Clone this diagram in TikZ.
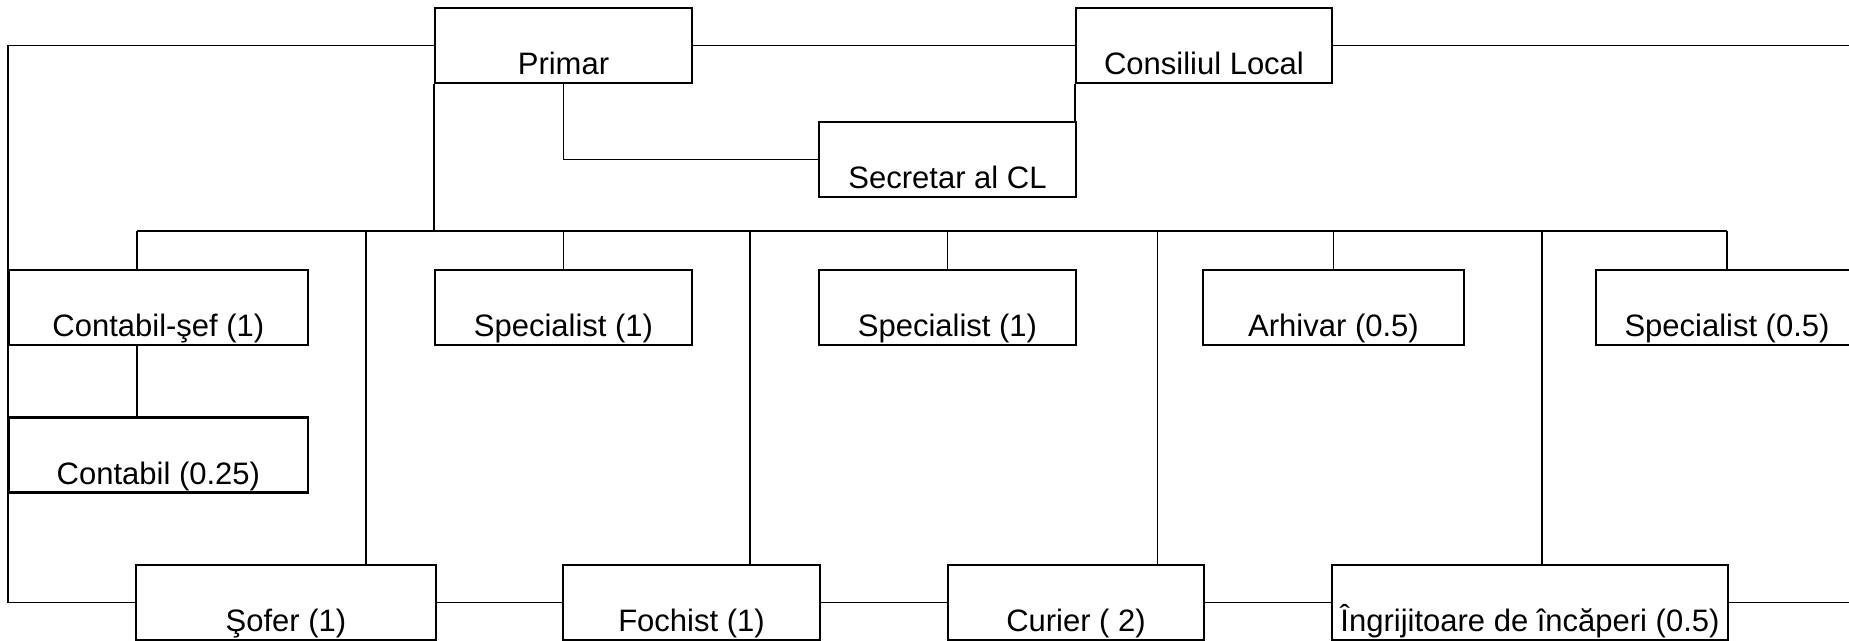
\documentclass[tikz,border=0pt]{standalone}
\usepackage{fontspec}
\newfontfamily\postfont{Liberation Sans}

\begin{document}
\begin{tikzpicture}[x=0.5pt,y=-0.5pt,
  post/.style={draw,line width=1.1pt,rectangle,inner xsep=0pt,inner ysep=0pt,text height=33.5pt,text depth=4pt,minimum height=37.5pt,font=\postfont\fontsize{15.5}{18}\selectfont},
  link/.style={line width=0.9pt}]
\clip (0,0) rectangle (1849,641);

\node[post,minimum width=128.5pt] (pr) at (563.5,45.5) {Primar};
\node[post,minimum width=128pt] (cl) at (1204,45.5) {Consiliul Local};
\node[post,minimum width=128.5pt] (sc) at (947.5,159.5) {Secretar al CL};

\node[post,minimum width=149.5pt] (cs) at (158.4,307.5) {Contabil-şef (1)};
\node[post,minimum width=149.5pt] (ct) at (158.4,455) {Contabil (0.25)};
\node[post,minimum width=128.5pt] (sp1) at (563.5,307.5) {Specialist (1)};
\node[post,minimum width=128.5pt] (sp2) at (947.5,307.5) {Specialist (1)};
\node[post,minimum width=130.5pt] (ar) at (1333.5,307.5) {Arhivar (0.5)};
\node[post,minimum width=131pt] (sp3) at (1727,307.5) {Specialist (0.5)};

\node[post,minimum width=150pt] (so) at (286,602.5) {Şofer (1)};
\node[post,minimum width=128.5pt] (fo) at (691.5,602.5) {Fochist (1)};
\node[post,minimum width=128pt] (cu) at (1076,602.5) {Curier ( 2)};
\node[post,minimum width=198pt] (in) at (1530,602.5) {Îngrijitoare de încăperi (0.5)};

\coordinate (busL) at (137,231);
\coordinate (busR) at (1727,231);
\coordinate (d1) at (366,231);
\coordinate (d2) at (750,231);
\coordinate (d3) at (1157.5,231);
\coordinate (d4) at (1542,231);
\coordinate (edge) at (1849,0);

\draw[link] (pr.west)-|(ct.west)|-(so.west);
\draw[link] (pr.east)--(cl.west);
\draw[link] (cl.east)--(cl.east-|edge);
\draw[link] (pr.south)|-(sc.west);
\draw[link] (cl.south west)--(cl.south west|-sc.north);
\draw[link] (pr.south west)--(pr.south west|-busL);
\draw[link] (busL)--(busR);

\draw[link] (busL)--(busL|-cs.north);
\draw[link] (cs.south-|busL)--(ct.north-|busL);
\draw[link] (sp1.north)--(sp1.north|-busL);
\draw[link] (sp2.north)--(sp2.north|-busL);
\draw[link] (ar.north)--(ar.north|-busL);
\draw[link] (sp3.north)--(sp3.north|-busR);

\draw[link] (d1)--(d1|-so.north);
\draw[link] (d2)--(d2|-fo.north);
\draw[link] (d3)--(d3|-cu.north);
\draw[link] (d4)--(d4|-in.north);

\draw[link] (so.east)--(fo.west);
\draw[link] (fo.east)--(cu.west);
\draw[link] (cu.east)--(in.west);
\draw[link] (in.east)--(in.east-|edge);
\end{tikzpicture}
\end{document}
